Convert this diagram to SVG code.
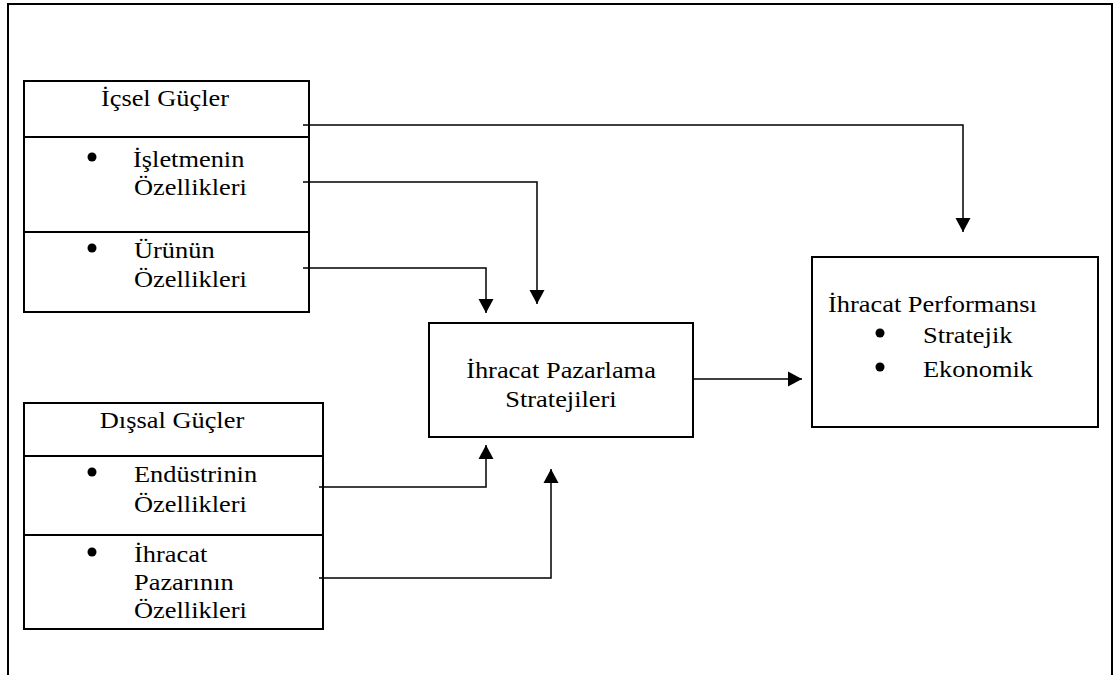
<svg xmlns="http://www.w3.org/2000/svg" width="1113" height="675" viewBox="0 0 1113 675">
<style>
.box{fill:none;stroke:#000;stroke-width:2}
.div{stroke:#000;stroke-width:2}
.frame{fill:none;stroke:#000;stroke-width:2}
.con{fill:none;stroke:#000;stroke-width:1.5}
.b{fill:#000}
</style>
<defs>
<marker id="ah" markerUnits="userSpaceOnUse" markerWidth="16" markerHeight="16" viewBox="0 0 16 16" refX="14" refY="8" orient="auto">
<path d="M0,0.5 L14,8 L0,15.5 Z" fill="#000"/>
</marker>
</defs>
<rect width="1113" height="675" fill="#fff"/>
<path class="frame" d="M8,675 V4 H1112 V675"/>

<g font-family="Liberation Serif, Times New Roman, serif" font-size="24" fill="#000">
<g id="icsel">
<rect class="box" x="24" y="81" width="285" height="231"/>
<line class="div" x1="24" y1="137" x2="309" y2="137"/>
<line class="div" x1="24" y1="232" x2="309" y2="232"/>
<text text-anchor="middle" transform="translate(165,106) scale(1.1,1)">İçsel Güçler</text>
<circle class="b" cx="92" cy="157" r="4.5"/>
<text transform="translate(133,167) scale(1.1,1)">İşletmenin</text>
<text transform="translate(134,195) scale(1.1,1)">Özellikleri</text>
<circle class="b" cx="92" cy="248" r="4.5"/>
<text transform="translate(134,258) scale(1.1,1)">Ürünün</text>
<text transform="translate(134,287) scale(1.1,1)">Özellikleri</text>
</g>

<g id="dissal">
<rect class="box" x="24" y="403" width="299" height="226"/>
<line class="div" x1="24" y1="456" x2="323" y2="456"/>
<line class="div" x1="24" y1="535" x2="323" y2="535"/>
<text text-anchor="middle" transform="translate(172,428) scale(1.1,1)">Dışsal Güçler</text>
<circle class="b" cx="92" cy="472" r="4.5"/>
<text transform="translate(134,482) scale(1.1,1)">Endüstrinin</text>
<text transform="translate(134,512) scale(1.1,1)">Özellikleri</text>
<circle class="b" cx="92" cy="552" r="4.5"/>
<text transform="translate(134,562) scale(1.1,1)">İhracat</text>
<text transform="translate(134,590) scale(1.1,1)">Pazarının</text>
<text transform="translate(134,618) scale(1.1,1)">Özellikleri</text>
</g>

<g id="strateji">
<rect class="box" x="429" y="323" width="264" height="114"/>
<text text-anchor="middle" transform="translate(561,378) scale(1.1,1)">İhracat Pazarlama</text>
<text text-anchor="middle" transform="translate(561,407) scale(1.1,1)">Stratejileri</text>
</g>

<g id="performans">
<rect class="box" x="812" y="257" width="286" height="170"/>
<text transform="translate(828,312) scale(1.1,1)">İhracat Performansı</text>
<circle class="b" cx="880" cy="333" r="4.5"/>
<text transform="translate(923,343) scale(1.1,1)">Stratejik</text>
<circle class="b" cx="880" cy="367" r="4.5"/>
<text transform="translate(923,377) scale(1.1,1)">Ekonomik</text>
</g>
</g>

<g id="connectors">
<path class="con" d="M303,125 H963 V232" marker-end="url(#ah)"/>
<path class="con" d="M303,182 H537 V304" marker-end="url(#ah)"/>
<path class="con" d="M303,268 H486 V313" marker-end="url(#ah)"/>
<path class="con" d="M319,487 H486 V445" marker-end="url(#ah)"/>
<path class="con" d="M319,578 H551 V469" marker-end="url(#ah)"/>
<path class="con" d="M693,379 H802" marker-end="url(#ah)"/>
</g>
</svg>
